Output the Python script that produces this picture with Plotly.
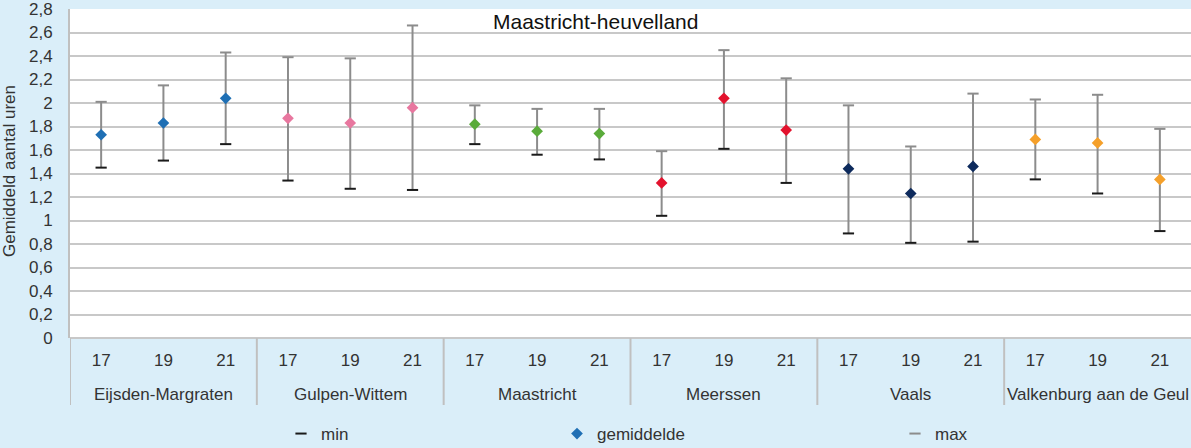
import numpy as np
import plotly.graph_objects as go

# data (hours, school years 17/19/21)
gemeenten = ["Eijsden-Margraten", "Gulpen-Wittem", "Maastricht", "Meerssen", "Vaals", "Valkenburg aan de Geul"]
jaren = ["17", "19", "21"]

gemiddelde = [1.73, 1.83, 2.04, 1.87, 1.83, 1.96, 1.82, 1.76, 1.74,
              1.32, 2.04, 1.77, 1.44, 1.23, 1.46, 1.69, 1.66, 1.35]
minimum = [1.45, 1.51, 1.65, 1.34, 1.27, 1.26, 1.65, 1.56, 1.52,
           1.04, 1.61, 1.32, 0.89, 0.81, 0.82, 1.35, 1.23, 0.91]
maximum = [2.01, 2.15, 2.43, 2.39, 2.38, 2.66, 1.98, 1.95, 1.95,
           1.59, 2.45, 2.21, 1.98, 1.63, 2.08, 2.03, 2.07, 1.78]

kleuren = ["#1f6fb4", "#e8779f", "#5aab3a", "#e3122d", "#0d2a5c", "#f5a02a"]

BG = "#daeef9"
FONT = "Liberation Sans, Arial, sans-serif"
TXT = "#333333"
RASTER = "#c8c8c8"

n_j = len(jaren)
pos = np.arange(len(gemeenten) * n_j)
jaar_labels = [j for _ in gemeenten for j in jaren]
punt_kleur = [k for k in kleuren for _ in jaren]

lo = np.array(minimum)
hi = np.array(maximum)

fig = go.Figure()

# min marker + whisker line (min -> max)
fig.add_trace(go.Scatter(
    x=pos, y=minimum, mode="markers", name="min",
    marker=dict(symbol="line-ew", size=8, line=dict(color="#1a1a1a", width=2), color="#1a1a1a"),
    error_y=dict(type="data", symmetric=False, array=hi - lo, arrayminus=np.zeros_like(lo),
                 color="#8c8c8c", thickness=2, width=0),
    legend="legend",
))

fig.add_trace(go.Scatter(
    x=pos, y=gemiddelde, mode="markers", name="gemiddelde",
    marker=dict(symbol="diamond", size=9, color=punt_kleur, line=dict(width=0)),
    legend="legend2",
))

fig.add_trace(go.Scatter(
    x=pos, y=maximum, mode="markers", name="max",
    marker=dict(symbol="line-ew", size=8, line=dict(color="#8c8c8c", width=2), color="#8c8c8c"),
    legend="legend3",
))

W, H = 1191, 448
L, R, T, B = 70, 0, 9, 110
pw = W - L - R
ph = H - T - B


def px_x(p):
    return (p - L) / pw


def px_y(p):
    return (H - B - p) / ph


leg = dict(orientation="h", yanchor="middle", xanchor="left", bgcolor="rgba(0,0,0,0)",
           xref="container", yref="container", y=(H - 434) / H,
           font=dict(family=FONT, size=17, color=TXT))

# group labels and dividers under the axis
extra = []
shapes = []
for i, g in enumerate(gemeenten):
    extra.append(dict(text=g, x=pos[i * n_j + 1], xref="x", y=px_y(395), yref="paper",
                      showarrow=False, xanchor="center", yanchor="middle",
                      font=dict(family=FONT, size=17, color=TXT)))
    shapes.append(dict(type="line", xref="x", yref="paper", x0=pos[i * n_j] - 0.5, x1=pos[i * n_j] - 0.5,
                       y0=0, y1=px_y(405), line=dict(color="#c0c0c0", width=2)))

fig.update_layout(
    width=W, height=H,
    margin=dict(l=L, r=R, t=T, b=B, autoexpand=False),
    paper_bgcolor=BG, plot_bgcolor="white",
    separators=", ",
    font=dict(family=FONT, size=17, color=TXT),
    showlegend=True,
    legend=dict(leg, x=281 / W),
    legend2=dict(leg, x=557 / W),
    legend3=dict(leg, x=895 / W),
    xaxis=dict(
        range=[-0.5, len(pos) - 0.5], automargin=False,
        tickmode="array", tickvals=pos, ticktext=jaar_labels,
        showgrid=False, showline=False, zeroline=False, ticks="",
        ticklabelstandoff=10,
        tickfont=dict(family=FONT, size=17, color=TXT),
    ),
    yaxis=dict(
        range=[0, 2.8001], dtick=0.2, tick0=0, automargin=False,
        showgrid=True, gridcolor=RASTER, gridwidth=2,
        zeroline=True, zerolinecolor=RASTER, zerolinewidth=2,
        showline=True, linecolor="#c0c0c0", linewidth=2,
        ticks="", ticklabelstandoff=12, ticklabeloverflow="allow",
        tickfont=dict(family=FONT, size=17, color=TXT),
    ),
    shapes=shapes,
    annotations=[
        dict(text="Maastricht-heuvelland", x=px_x(595), y=px_y(22), xref="paper", yref="paper",
             xanchor="center", yanchor="middle",
             showarrow=False, font=dict(family=FONT, size=21, color="#111111")),
        dict(text="Gemiddeld aantal uren", x=px_x(9), y=px_y(171), xref="paper", yref="paper",
             xanchor="center", yanchor="middle",
             textangle=-90, showarrow=False, font=dict(family=FONT, size=17, color=TXT)),
    ] + extra,
)

fig.write_html("out.html", config={"displayModeBar": False},
               post_script="document.body.style.margin='0';document.body.style.overflow='hidden';")
